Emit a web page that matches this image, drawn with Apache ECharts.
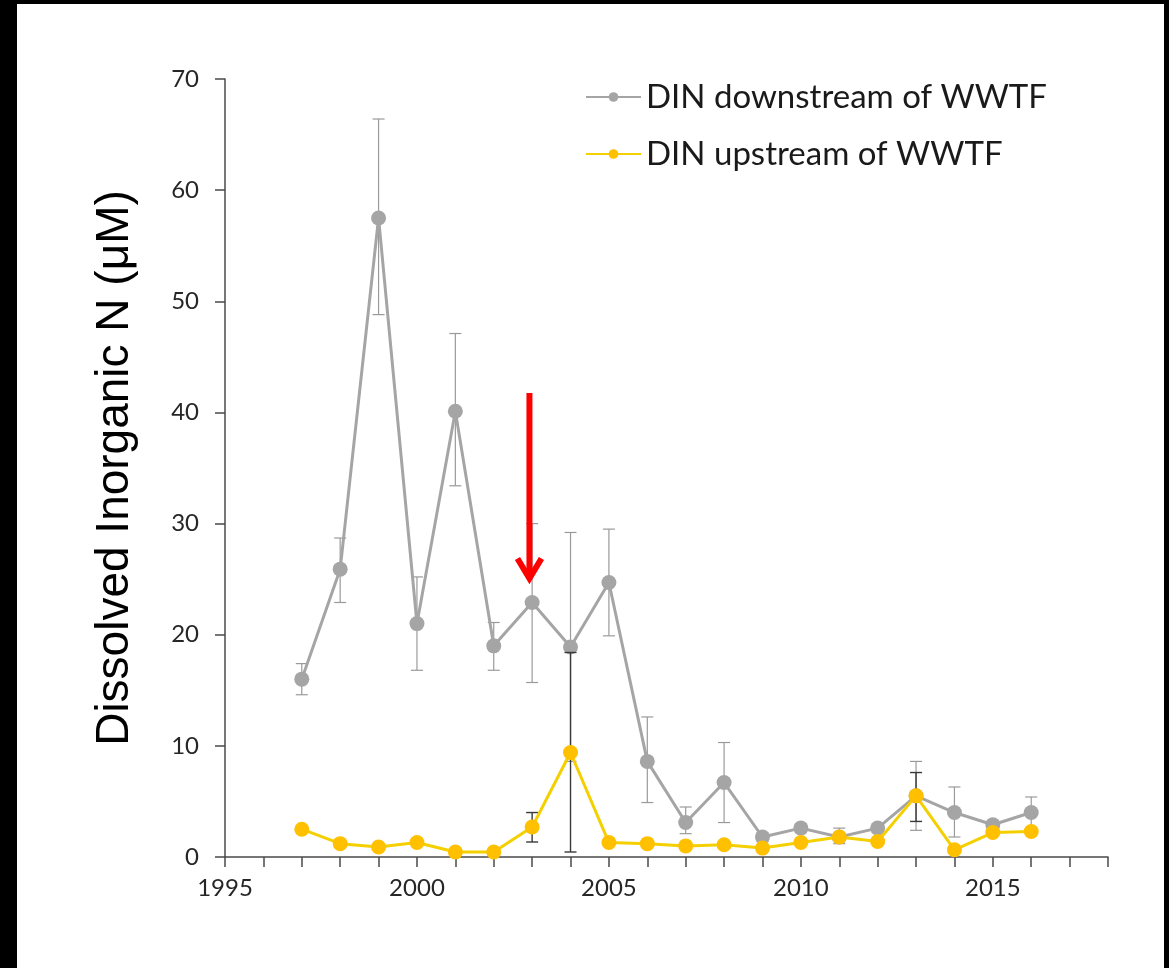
<!DOCTYPE html>
<html>
<head>
<meta charset="utf-8">
<script src="https://cdn.jsdelivr.net/npm/echarts@6/dist/echarts.min.js"></script>
<style>
  html, body { margin: 0; padding: 0; background: #000; }
  #chart { position: absolute; left: 17px; top: 4px; width: 1147px; height: 964px; background: #fff; }
</style>
</head>
<body>
<div id="chart"></div>
<script>
// Sampling years
const years = [1997, 1998, 1999, 2000, 2001, 2002, 2003, 2004, 2005, 2006,
               2007, 2008, 2009, 2010, 2011, 2012, 2013, 2014, 2015, 2016];

// Mean DIN (µM) downstream of the WWTF, with error-bar limits
const downstream     = [16.0, 25.9, 57.5, 21.0, 40.1, 19.0, 22.9, 18.9, 24.7, 8.6,
                        3.1, 6.7, 1.8, 2.6, 1.8, 2.6, 5.5, 4.0, 2.9, 4.0];
const downstreamHigh = [17.4, 28.7, 66.4, 25.2, 47.1, 21.1, 30.0, 29.2, 29.5, 12.6,
                        4.5, 10.3, 2.2, 3.0, 2.6, 3.0, 8.6, 6.3, 3.3, 5.4];
const downstreamLow  = [14.6, 22.9, 48.8, 16.8, 33.4, 16.8, 15.7, 8.6, 19.9, 4.9,
                        2.1, 3.1, 1.4, 2.2, 1.2, 2.2, 2.4, 1.8, 2.5, 2.6];

// Mean DIN (µM) upstream of the WWTF, with error-bar limits
const upstream     = [2.5, 1.2, 0.9, 1.3, 0.45, 0.45, 2.7, 9.4, 1.3, 1.2,
                      1.0, 1.1, 0.8, 1.3, 1.8, 1.4, 5.5, 0.65, 2.2, 2.3];
const upstreamHigh = [null, null, null, null, null, null, 4.0, 18.4, null, null,
                      null, null, null, null, null, null, 7.6, null, null, null];
const upstreamLow  = [null, null, null, null, null, null, 1.35, 0.45, null, null,
                      null, null, null, null, null, null, 3.2, null, null, null];

// Arrow marking the upgrade year: [year, from value, to value]
const arrow = [[2002.93, 41.75, 24.7]];

const xMin = 1995, xMax = 2018, xLabelStep = 5;
const yMin = 0, yMax = 70, yStep = 10;

const seriesNames = ['DIN downstream of WWTF', 'DIN upstream of WWTF'];

const GREY = '#a5a5a5';
const GOLD = '#ffc000';
const GOLD_LINE = '#f4d000';
const AXIS = '#4a4a4a';
const TICK_FONT = 'Lato, "Open Sans", sans-serif';

function pairs(xs, ys) { return xs.map((x, i) => [x, ys[i]]); }
function bars(xs, hi, lo) {
  const out = [];
  xs.forEach((x, i) => { if (hi[i] != null && lo[i] != null) out.push([x, lo[i], hi[i]]); });
  return out;
}

// Vertical error bar with caps
function errorBarRenderer(color, width, cap) {
  return function (params, api) {
    const x = api.value(0);
    const lo = api.coord([x, api.value(1)]);
    const hi = api.coord([x, api.value(2)]);
    const style = { stroke: color, lineWidth: width, fill: null };
    return {
      type: 'group',
      children: [
        { type: 'line', shape: { x1: lo[0], y1: lo[1], x2: hi[0], y2: hi[1] }, style },
        { type: 'line', shape: { x1: hi[0] - cap, y1: hi[1], x2: hi[0] + cap, y2: hi[1] }, style },
        { type: 'line', shape: { x1: lo[0] - cap, y1: lo[1], x2: lo[0] + cap, y2: lo[1] }, style }
      ]
    };
  };
}

// Red downward arrow with an open chevron head
function arrowRenderer(params, api) {
  const x = api.value(0);
  const top = api.coord([x, api.value(1)]);
  const tip = api.coord([x, api.value(2)]);
  const style = { stroke: '#ff0000', lineWidth: 6, fill: null, lineCap: 'butt', lineJoin: 'miter' };
  return {
    type: 'group',
    children: [
      { type: 'line', shape: { x1: top[0], y1: top[1], x2: tip[0], y2: tip[1] - 4 }, style },
      { type: 'polyline', shape: { points: [[tip[0] - 12, tip[1] - 24], [tip[0], tip[1] - 4], [tip[0] + 12, tip[1] - 24]] }, style }
    ]
  };
}

const chart = echarts.init(document.getElementById('chart'), null, { renderer: 'canvas' });

chart.setOption({
  backgroundColor: '#ffffff',
  animation: false,
  grid: { left: 208, right: 56, top: 75, bottom: 111, containLabel: false },
  legend: {
    data: seriesNames,
    orient: 'vertical',
    left: 563,
    top: 70,
    itemWidth: 55,
    itemHeight: 12,
    itemGap: 21,
    textStyle: { fontFamily: TICK_FONT, fontSize: 33, color: '#1a1a1a', lineHeight: 36 }
  },
  xAxis: {
    type: 'value',
    min: xMin,
    max: xMax,
    interval: 1,
    splitLine: { show: false },
    axisLine: { lineStyle: { color: AXIS, width: 1.5 } },
    axisTick: { length: 10, lineStyle: { color: AXIS, width: 1.5 } },
    axisLabel: {
      margin: 19,
      fontFamily: TICK_FONT,
      fontSize: 24,
      color: '#262626',
      formatter: v => (v % xLabelStep === 0 ? String(v) : '')
    }
  },
  yAxis: {
    type: 'value',
    min: yMin,
    max: yMax,
    interval: yStep,
    name: 'Dissolved Inorganic N (μM)',
    nameLocation: 'middle',
    nameGap: 87,
    nameTextStyle: { fontFamily: '"Liberation Sans", Arial, sans-serif', fontSize: 46, color: '#000' },
    splitLine: { show: false },
    axisLine: { show: true, lineStyle: { color: AXIS, width: 1.5 } },
    axisTick: { show: true, length: 10, lineStyle: { color: AXIS, width: 1.5 } },
    axisLabel: { margin: 26, fontFamily: TICK_FONT, fontSize: 24, color: '#262626' }
  },
  series: [
    {
      type: 'custom',
      name: 'downstream error',
      renderItem: errorBarRenderer('#9a9a9a', 1.2, 6),
      data: bars(years, downstreamHigh, downstreamLow),
      z: 1,
      silent: true
    },
    {
      type: 'line',
      name: seriesNames[0],
      data: pairs(years, downstream),
      symbol: 'circle',
      symbolSize: 15,
      lineStyle: { color: GREY, width: 3 },
      itemStyle: { color: GREY },
      z: 2
    },
    {
      type: 'custom',
      name: 'upstream error',
      renderItem: errorBarRenderer('#3a3a3a', 1.4, 6),
      data: bars(years, upstreamHigh, upstreamLow),
      z: 3,
      silent: true
    },
    {
      type: 'line',
      name: seriesNames[1],
      data: pairs(years, upstream),
      symbol: 'circle',
      symbolSize: 15,
      lineStyle: { color: GOLD_LINE, width: 3 },
      itemStyle: { color: GOLD },
      z: 4
    },
    {
      type: 'custom',
      name: 'arrow',
      renderItem: arrowRenderer,
      data: arrow,
      z: 5,
      silent: true
    }
  ]
});
</script>
</body>
</html>
